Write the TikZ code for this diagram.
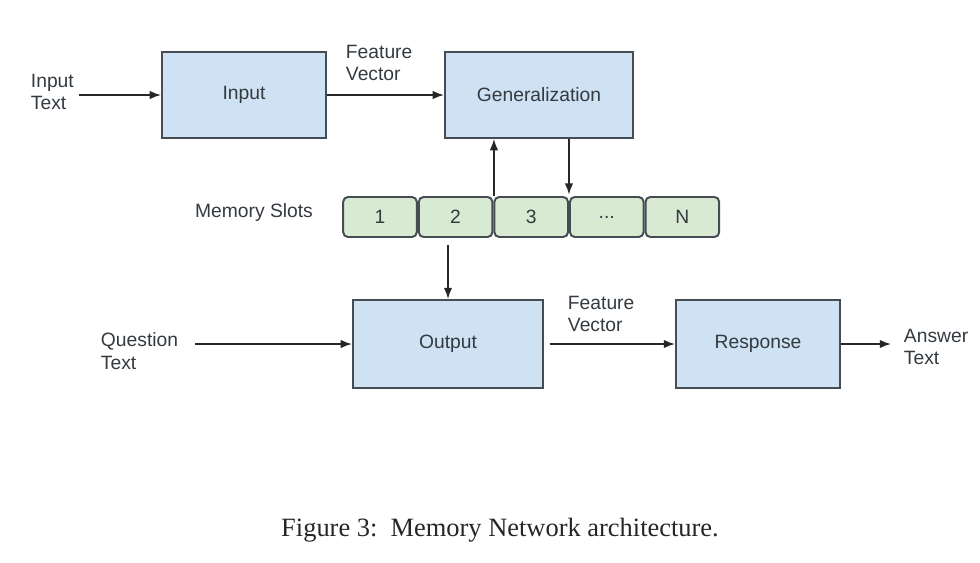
\documentclass[tikz,border=0pt]{standalone}
\usepackage{fontspec}
\setmainfont{Liberation Serif}
\setsansfont{Liberation Sans}
\usetikzlibrary{arrows.meta, positioning}
\definecolor{boxblue}{HTML}{CFE2F3}
\definecolor{slotgreen}{HTML}{D9EAD3}
\definecolor{boxline}{HTML}{454C54}
\definecolor{labeltext}{HTML}{333A40}
\tikzset{
    block/.style={draw=boxline, fill=boxblue, line width=1.4pt,
        minimum height=2.15cm, text=labeltext, font=\sffamily\fontsize{13.7}{16}\selectfont},
    slot/.style={draw=boxline, fill=slotgreen, line width=1.4pt, rounded corners=0.12cm,
        minimum width=1.84cm, minimum height=1cm, text=labeltext,
        font=\sffamily\fontsize{13.7}{16}\selectfont},
    txt/.style={align=left, anchor=west, text=labeltext,
        font=\sffamily\fontsize{13.7}{16}\selectfont},
    flow/.style={-{Latex[length=8pt, width=6pt]}, line width=1.1pt, draw=black!85}
}
\begin{document}
\begin{tikzpicture}[x=0.025cm, y=-0.025cm]
    \useasboundingbox (0, 0) rectangle (980, 562);

    \node[block, minimum width=4.1cm] (input) at (244, 95) {Input};
    \node[block, minimum width=4.7cm] (gen) at (539, 95) {Generalization};
    \node[block, minimum width=4.75cm, minimum height=2.2cm] (output) at (448, 344) {Output};
    \node[block, minimum width=4.1cm, minimum height=2.2cm] (resp) at (758, 344) {Response};

    \node[txt] (intext) at (26, 92) {Input\\Text};
    \node[txt] (fv1) at (341, 63) {Feature\\Vector};
    \node[txt] (qtext) at (96, 351) {Question\\Text};
    \node[txt] (fv2) at (563, 314) {Feature\\Vector};
    \node[txt] (atext) at (899, 347) {Answer\\Text};
    \node[txt, anchor=center] (memlabel) at (254, 213) {Memory Slots};

    \node[slot] (s1) at (380, 217) {1};
    \node[slot, right=0pt of s1] (s2) {2};
    \node[slot, right=0pt of s2] (s3) {3};
    \node[slot, right=0pt of s3] (s4) {...};
    \node[slot, right=0pt of s4] (s5) {N};

    \coordinate (upfoot) at ([xshift=0.4pt]s3.north west);

    \draw
    (intext.east |- input) edge[flow] (input)
    (input) edge[flow] (gen)
    (upfoot) edge[flow] (upfoot |- gen.south)
    (s4.north west |- gen.south) edge[flow, shorten >=1pt] (s4.north west)
    (output.north |- s2.south) edge[flow, shorten <=5pt] (output.north)
    (qtext.east |- output) edge[flow, shorten <=0.3cm] (output)
    (output) edge[flow, shorten <=4pt] (resp)
    (resp) edge[flow, shorten >=0.2cm] (atext.west |- resp);

    \node[font=\rmfamily\fontsize{18.8}{22}\selectfont, text=black!85] (caption) at (500, 530)
        {Figure 3:\ \ Memory Network architecture.};
\end{tikzpicture}
\end{document}
